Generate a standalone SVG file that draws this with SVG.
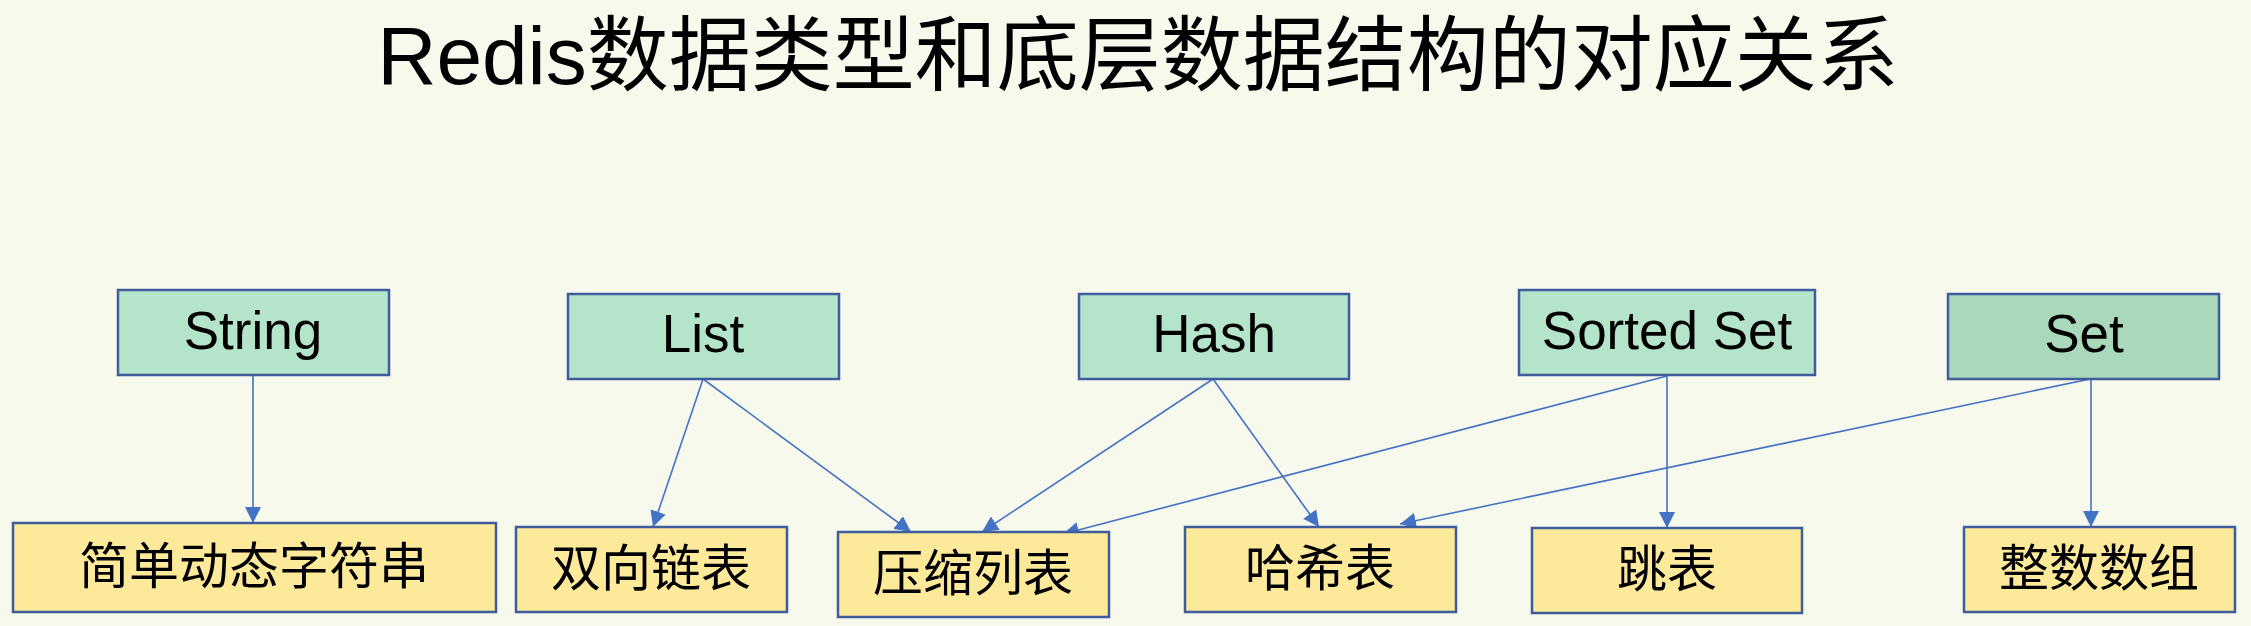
<svg xmlns="http://www.w3.org/2000/svg" width="2251" height="626" viewBox="0 0 2251 626">
<style>
.bg{fill:#f7f9ec}
.top{fill:#b4e4c9;stroke:#3f5c9c;stroke-width:2.5}
.top2{fill:#a9d8bb;stroke:#3f5c9c;stroke-width:2.5}
.bot{fill:#fde99a;stroke:#3f5c9c;stroke-width:2.5}
.t{font-family:"Liberation Sans","Noto Sans CJK SC",sans-serif;font-size:50px;fill:#000;text-anchor:middle}
.l{font-size:53px}
.title{font-family:"Liberation Sans","Noto Sans CJK SC",sans-serif;font-size:82px;fill:#000;text-anchor:middle}
.c{stroke:#4472c4;stroke-width:1.6;fill:none;marker-end:url(#ah)}
</style>
<defs>
<marker id="ah" markerUnits="userSpaceOnUse" markerWidth="16" markerHeight="16" viewBox="0 0 16 16" refX="16" refY="8" orient="auto">
<path d="M0,0 L16,8 L0,16 Z" fill="#4472c4"/>
</marker>
</defs>
<rect class="bg" x="0" y="0" width="2251" height="626"/>
<text class="title" x="1138" y="84">Redis数据类型和底层数据结构的对应关系</text>
<g id="connectors">
<line class="c" x1="253" y1="376" x2="253" y2="523"/>
<line class="c" x1="703" y1="379" x2="653" y2="527"/>
<line class="c" x1="703" y1="379" x2="911" y2="532"/>
<line class="c" x1="1213" y1="379" x2="982" y2="532"/>
<line class="c" x1="1213" y1="379" x2="1319" y2="527"/>
<line class="c" x1="1667" y1="376" x2="1063" y2="534"/>
<line class="c" x1="1667" y1="376" x2="1667" y2="528"/>
<line class="c" x1="2090" y1="379" x2="1400" y2="524"/>
<line class="c" x1="2091" y1="379" x2="2091" y2="527"/>
</g>
<g id="n-string"><rect class="top" x="118" y="290" width="271" height="85"/><text class="t l" x="253" y="349">String</text></g>
<g id="n-list"><rect class="top" x="568" y="294" width="271" height="85"/><text class="t l" x="703" y="352">List</text></g>
<g id="n-hash"><rect class="top" x="1079" y="294" width="270" height="85"/><text class="t l" x="1214" y="352">Hash</text></g>
<g id="n-zset"><rect class="top" x="1519" y="290" width="296" height="85"/><text class="t l" x="1667" y="349">Sorted Set</text></g>
<g id="n-set"><rect class="top2" x="1948" y="294" width="271" height="85"/><text class="t l" x="2084" y="352">Set</text></g>
<g id="n-sds"><rect class="bot" x="13" y="523" width="483" height="89"/><text class="t" x="254" y="584">简单动态字符串</text></g>
<g id="n-linkedlist"><rect class="bot" x="516" y="527" width="271" height="85"/><text class="t" x="651" y="586">双向链表</text></g>
<g id="n-ziplist"><rect class="bot" x="838" y="532" width="271" height="85"/><text class="t" x="973" y="591">压缩列表</text></g>
<g id="n-hashtable"><rect class="bot" x="1185" y="527" width="271" height="85"/><text class="t" x="1320" y="586">哈希表</text></g>
<g id="n-skiplist"><rect class="bot" x="1532" y="528" width="270" height="85"/><text class="t" x="1667" y="587">跳表</text></g>
<g id="n-intset"><rect class="bot" x="1964" y="527" width="271" height="85"/><text class="t" x="2099" y="586">整数数组</text></g>
</svg>
